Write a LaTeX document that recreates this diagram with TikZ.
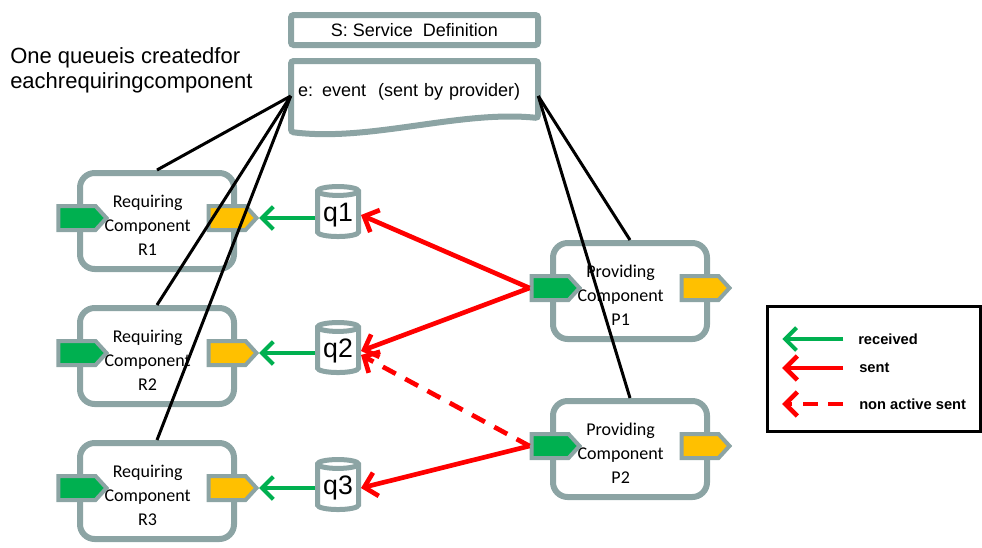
\documentclass[tikz,border=0pt]{standalone}
\usepackage{fontspec}
\setmainfont{Liberation Sans}
\newfontfamily\compfont{Carlito}
\usetikzlibrary{arrows.meta,shapes.symbols,shapes.geometric}
\definecolor{framegray}{RGB}{140,164,164}
\definecolor{portgreen}{RGB}{0,176,80}
\definecolor{portorange}{RGB}{255,192,0}
\definecolor{sentred}{RGB}{255,0,0}
\tikzset{
  comp/.style={draw=framegray,line width=4.5pt,rounded corners=11pt,fill=white,
    minimum width=115.5pt,minimum height=72pt,inner sep=0pt},
  comptext/.style={font=\compfont\fontsize{13.5}{18}\selectfont,align=center,inner sep=0pt},
  port/.style={signal,signal to=east,signal pointer angle=95,draw=framegray,line width=3pt,
    minimum width=36pt,minimum height=18pt,inner sep=0pt},
  queue/.style={cylinder,shape border rotate=90,aspect=0.3,draw=framegray,fill=white,
    line width=3.75pt,minimum width=30.75pt,minimum height=37.5pt,inner sep=0pt,
    font=\fontsize{20}{20}\selectfont},
  recv/.style={draw=portgreen,line width=3pt,-{Straight Barb[length=8.5pt,width=17pt]}},
  sent/.style={draw=sentred,line width=3.5pt,-{Straight Barb[length=9pt,width=18pt]}},
  nasent/.style={sent,dash pattern=on 11pt off 8pt},
  link/.style={draw=black,line width=2.25pt},
  legtext/.style={anchor=west,inner sep=0pt,font=\bfseries\fontsize{11}{13}\selectfont},
}
\begin{document}
\begin{tikzpicture}[x=0.75pt,y=-0.75pt]
\useasboundingbox (0,0) rectangle (982,547);

% service definition
\node[draw=framegray,line width=4.5pt,rounded corners=2pt,minimum width=185.25pt,
  minimum height=22.5pt,font=\fontsize{13.5}{16}\selectfont] (sd) at (414.5,30) {S: Service\ \ Definition};
\draw[framegray,line width=4.5pt,rounded corners=2pt,fill=white]
  (291,61) -- (538,61) -- (538,118) .. controls (460,110) and (370,142) .. (291,132) -- cycle;
\node[minimum width=185.25pt,minimum height=52.5pt,inner xsep=5.25pt,text width=174.75pt,
  align=left,text height=10pt,text depth=10pt,font=\fontsize{13.5}{16}\selectfont]
  (ev) at (414.5,96) {e: event\ \ (sent by provider)};

\node[anchor=west,align=left,inner sep=0pt,font=\fontsize{16.5}{18.75}\selectfont]
  (note) at (10,70) {One queueis createdfor\\eachrequiringcomponent};

% components
\foreach \n/\x/\y/\a in {R1/157/221/Requiring,R2/157/356/Requiring,R3/157/491/Requiring,
                         P1/630/291/Providing,P2/630/449/Providing}{
  \node[comp] (\n) at (\x,\y) {};
  \node[comptext] (\n-txt) at ([xshift=-7pt,yshift=-3.5pt]\n) {\a\\Component\\\n};
  \node[port,fill=portgreen] (\n-in) at ([yshift=2.25pt]\n.west) {};
  \node[port,fill=portorange] (\n-out) at ([xshift=-7.5pt,yshift=2.25pt]\n.east) {};
}

% queues
\foreach \i/\y in {1/215,2/351,3/488}
  \node[queue] (q\i) at (338,\y) {q\i};

\foreach \i in {1,2,3}
  \draw[recv] (q\i.west |- R\i-out.east) -- (R\i-out.east);
\draw[sent] (P1-in.west) -- (q1.east);
\draw[sent] (P1-in.west) -- (q2.east);
\draw[nasent] (P2-in.west) -- ([yshift=-3pt]q2.east);
\draw[sent] (P2-in.west) -- (q3.east);

% links to the event
\foreach \n in {R1,R2,R3}
  \draw[link] (ev.west) -- (\n.north);
\foreach \n in {P1,P2}
  \draw[link] (ev.east) -- (\n.north);

% legend
\node[draw,line width=2.25pt,minimum width=159.75pt,minimum height=93.75pt] (legend) at (874,369) {};
\node[legtext] (lrecv) at (858,339) {received};
\node[legtext] (lsent) at (859,368) {sent};
\node[legtext] (lna) at (859,404) {non active sent};
\draw[recv] ([xshift=-11pt]lrecv.west) -- ++(-61,0);
\draw[sent] ([xshift=-12pt]lsent.west) -- ++(-61,0);
\draw[nasent] ([xshift=-12pt]lna.west) -- ++(-61,0);
\end{tikzpicture}
\end{document}
